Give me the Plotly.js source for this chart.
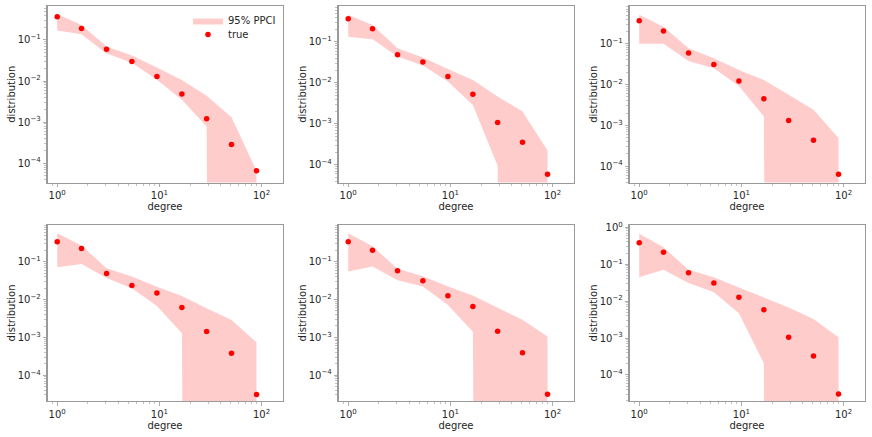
<!DOCTYPE html>
<html>
<head>
<meta charset="utf-8">
<script src="https://cdn.plot.ly/plotly-3.0.1.min.js"></script>
<style>
  html, body { margin: 0; padding: 0; background: #fff; }
  #chart { width: 872px; height: 437px; }
</style>
</head>
<body>
<div id="chart"></div>
<script>
// Degree bins shared by every panel
const degree = [1, 1.73, 3.04, 5.38, 9.46, 16.6, 29.0, 50.8, 89.3];

// Observed degree distribution, one array per panel
const true1 = [0.37, 0.189, 0.059, 0.030, 0.0128, 0.00485, 0.0012, 0.000284, 6.5e-5];
const true2 = [0.37, 0.211, 0.049, 0.0325, 0.0143, 0.0053, 0.00108, 0.000357, 5.9e-5];
const true3 = [0.365, 0.204, 0.059, 0.0307, 0.0122, 0.0045, 0.00131, 0.000434, 6.3e-5];
const true4 = [0.34, 0.226, 0.049, 0.0236, 0.0150, 0.00614, 0.00144, 0.000384, 3.1e-5];
const true5 = [0.34, 0.2, 0.0577, 0.0313, 0.0125, 0.0065, 0.00144, 0.00039, 3.1e-5];
const true6 = [0.38, 0.21, 0.0588, 0.0308, 0.0128, 0.00582, 0.00105, 0.000328, 3.05e-5];

// 95% posterior predictive interval, upper bounds
const upper1 = [0.43, 0.23, 0.069, 0.042, 0.0212, 0.0106, 0.00435, 0.00131, 6.5e-5];
const upper2 = [0.456, 0.26, 0.070, 0.042, 0.0219, 0.0118, 0.0047, 0.0020, 0.000224];
const upper3 = [0.51, 0.26, 0.077, 0.044, 0.0227, 0.0129, 0.0056, 0.0024, 0.00049];
const upper4 = [0.565, 0.27, 0.068, 0.041, 0.022, 0.0125, 0.0059, 0.0029, 0.00074];
const upper5 = [0.565, 0.255, 0.065, 0.041, 0.022, 0.0128, 0.0061, 0.0029, 0.00105];
const upper6 = [0.67, 0.286, 0.071, 0.044, 0.0235, 0.0128, 0.0067, 0.0033, 0.00105];

// 95% posterior predictive interval, lower bounds (0 = empty bin)
const lower1 = [0.169, 0.137, 0.047, 0.028, 0.0107, 0.0035, 0.00078, 0, 0];
const lower2 = [0.135, 0.116, 0.044, 0.0265, 0.0108, 0.0029, 9.5e-5, 0, 0];
const lower3 = [0.1, 0.1, 0.0377, 0.025, 0.0092, 0.00164, 0, 0, 0];
const lower4 = [0.072, 0.087, 0.037, 0.020, 0.0068, 0.00128, 0, 0, 0];
const lower5 = [0.055, 0.075, 0.0326, 0.022, 0.0072, 0.00141, 0, 0, 0];
const lower6 = [0.044, 0.071, 0.031, 0.0175, 0.0047, 0.000207, 0, 0, 0];

// log10 y-ranges of each panel
const yRanges = [
  [-4.472, -0.173], [-4.43, -0.122], [-4.40, -0.078],
  [-4.687, -0.019], [-4.69, -0.02], [-4.71, 0.07]
];
const xRange = [-0.095, 2.205];

const trues = [true1, true2, true3, true4, true5, true6];
const uppers = [upper1, upper2, upper3, upper4, upper5, upper6];
const lowers = [lower1, lower2, lower3, lower4, lower5, lower6];

const W = 872, H = 437;
const lefts = [47.5, 338.5, 629.5];
const panelW = 235;
const tops = [6, 224.7];
const panelH = 176.5;

// a zero bound cannot sit on a log axis; clip it far below the view
const FLOOR = 1e-100;

const FILL = 'rgba(255,0,0,0.2)';
const SPINE = '#9a9a9a';
const TEXT = '#262626';
const FONT = 'DejaVu Sans, sans-serif';

const sup = p => '10<sup>' + (p < 0 ? '\u2212' + (-p) : p) + '</sup>';
const xTickVals = [1, 10, 100];
const xTickText = [0, 1, 2].map(sup);
const yTickVals = [1, 0.1, 0.01, 0.001, 0.0001];
const yTickText = [0, -1, -2, -3, -4].map(sup);
const minorVals = [];
for (let k = -5; k <= 2; k++) {
  for (let m = 2; m <= 9; m++) minorVals.push(m * Math.pow(10, k));
}

const legendBase = {
  xanchor: 'left', yanchor: 'top',
  bgcolor: 'rgba(0,0,0,0)', borderwidth: 0,
  font: {family: FONT, size: 10, color: TEXT},
  tracegroupgap: 0, itemwidth: 30
};

const traces = [];
const layout = {
  width: W, height: H,
  margin: {l: 0, r: 0, t: 0, b: 0},
  paper_bgcolor: '#fff',
  plot_bgcolor: '#fff',
  font: {family: FONT, size: 10, color: TEXT},
  showlegend: true,
  legend: Object.assign({x: 188 / W, y: 1 - 6 / H}, legendBase),
  legend2: Object.assign({x: 188 / W, y: 1 - 20 / H}, legendBase)
};

for (let i = 0; i < 6; i++) {
  const col = i % 3, row = Math.floor(i / 3);
  const n = i + 1;
  const xa = 'xaxis' + (n === 1 ? '' : n);
  const ya = 'yaxis' + (n === 1 ? '' : n);
  const xr = 'x' + (n === 1 ? '' : n);
  const yr = 'y' + (n === 1 ? '' : n);

  const up = uppers[i];
  const lo = lowers[i].map(v => (v > 0 ? v : FLOOR));
  const bandX = degree.concat(degree.slice().reverse());
  const bandY = up.concat(lo.slice().reverse());

  traces.push({
    type: 'scatter', mode: 'lines', x: bandX, y: bandY,
    xaxis: xr, yaxis: yr,
    fill: 'toself', fillcolor: FILL,
    line: {width: 0, color: FILL},
    name: '95% PPCI', showlegend: i === 0, legend: 'legend', hoverinfo: 'skip'
  });
  traces.push({
    type: 'scatter', mode: 'markers', x: degree, y: trues[i],
    xaxis: xr, yaxis: yr,
    marker: {color: '#ff0000', size: 5.5, line: {width: 0}},
    name: 'true', showlegend: i === 0, legend: 'legend2'
  });

  const x0 = lefts[col], y0 = tops[row];
  const common = {
    type: 'log', showgrid: false, zeroline: false,
    showline: true, linecolor: SPINE, linewidth: 1.2, mirror: true,
    ticks: 'outside', ticklen: 3.5, tickwidth: 0.8, tickcolor: SPINE,
    tickmode: 'array',
    tickfont: {family: FONT, size: 10, color: TEXT},
    minor: {tickmode: 'array', tickvals: minorVals, ticks: 'outside',
            ticklen: 2, tickwidth: 0.6, tickcolor: SPINE, showgrid: false},
    fixedrange: true
  };
  layout[xa] = Object.assign({}, common, {
    domain: [x0 / W, (x0 + panelW) / W],
    anchor: yr,
    range: xRange,
    tickvals: xTickVals, ticktext: xTickText,
    title: {text: 'degree', font: {family: FONT, size: 10, color: TEXT}, standoff: 1}
  });
  layout[ya] = Object.assign({}, common, {
    domain: [1 - (y0 + panelH) / H, 1 - y0 / H],
    anchor: xr,
    range: yRanges[i],
    tickvals: yTickVals, ticktext: yTickText,
    title: {text: 'distribution', font: {family: FONT, size: 10, color: TEXT}, standoff: 0}
  });
}

Plotly.newPlot('chart', traces, layout, {staticPlot: true, displayModeBar: false});
</script>
</body>
</html>
